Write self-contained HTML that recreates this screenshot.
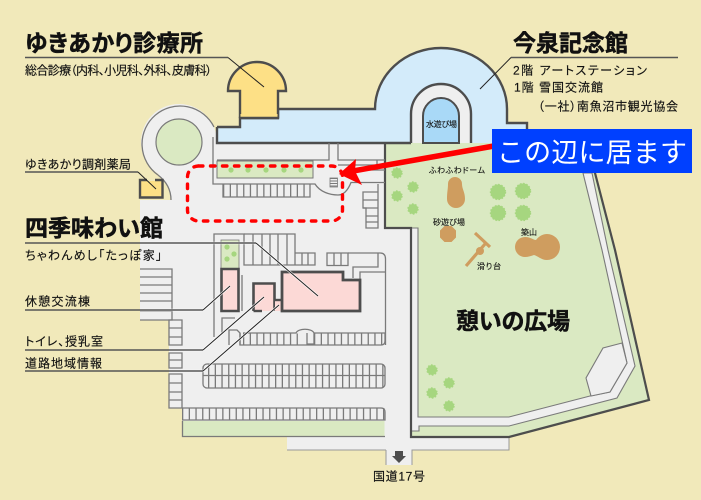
<!DOCTYPE html>
<html><head><meta charset="utf-8"><style>
html,body{margin:0;padding:0;background:#f1e9ba}
svg{display:block}
text{font-family:"Liberation Sans","Noto Sans CJK JP",sans-serif;fill:#111;font-feature-settings:"palt" 1}
.t{font-weight:700;font-size:23px;stroke:#111;stroke-width:.5px}
.s{font-size:12px;stroke:#111;stroke-width:.15px}
.m{font-size:8px;stroke:#111;stroke-width:.12px}
.c{fill:none;stroke:#7a7a7a;stroke-width:1.3}
.l{fill:none;stroke:#222;stroke-width:1}
.g{fill:none;stroke:#555;stroke-width:1.5}
.h{fill:none;stroke:#fff;stroke-width:2.4;opacity:.8}
.w{fill:none;stroke:#4d4d4d;stroke-width:2.4}
.tree{fill:#a6d67f;stroke:#a6d67f;stroke-width:1.4;stroke-dasharray:1.6 1.6}
</style></head><body>
<svg width="701" height="500" viewBox="0 0 701 500" xmlns="http://www.w3.org/2000/svg">
<rect width="701" height="500" fill="#f1e9ba"/>

<!-- ground -->
<path d="M214,127 L214,135 L412,135 L412,450 L509,450 L509,430 L412,430 L412,465 L386,465 L386,450 L287,450 L287,437 L182,437 L182,408 L169,408 L169,320 L140,320 L140,200 L171,200 Q171,185 158,175 Z" fill="#efefef"/>
<circle cx="179" cy="142" r="38" fill="#efefef"/>
<path d="M158,175 A38,38 0 1 1 214,127" class="c"/>
<path d="M158,175 Q171,185 171,200" class="c"/>
<circle cx="179" cy="142" r="23" fill="#dae9c2" stroke="#7a7a7a" stroke-width="1.2"/>
<path d="M287,450 L386,450 M386,450 V465 M412,465 V450 H509 V437" fill="none" stroke="#999" stroke-width="1"/>

<!-- park -->
<path d="M385,143 H560 L595,173 L615,250 L649,400 L509,437 H411 V228 H385 Z" fill="#dae9c2"/>
<path d="M411,228 H418 V417 H509 L590,396 L610,392 L627,363 L602,250 L583,173 L592,173 L608,250 L635,366 L617,398 L509,426 H419 V431 H411 Z" fill="#efefef" stroke="#7a7a7a" stroke-width="1.1"/>
<path d="M591,396 L586,378 L603,348 L622,343 L627,363 L610,392 Z" fill="#efefef" stroke="#7a7a7a" stroke-width="1.1"/>
<path d="M385,143 V228 H411 V437 H509 L649,400 L615,250 L595,173 L575,143" fill="none" stroke="#4d4d4d" stroke-width="2.2"/>

<!-- trees -->
<g class="tree">
<circle cx="397" cy="173" r="5"/><circle cx="413" cy="187" r="5"/><circle cx="397" cy="196" r="5"/><circle cx="413" cy="209" r="5"/>
<circle cx="498" cy="192" r="7.5"/><circle cx="523" cy="191" r="7.5"/><circle cx="498" cy="213" r="7.5"/><circle cx="523" cy="213" r="7.5"/>
<circle cx="432" cy="370" r="5"/><circle cx="449" cy="383" r="5"/><circle cx="432" cy="393" r="5"/><circle cx="449" cy="406" r="5"/>
</g>
<!-- brown features -->
<g fill="#cf9d5f">
<path d="M448,184 A7,7 0 0 1 462,184 C462,189 465,192 465,199 A9,9 0 0 1 447,199 C447,192 448,189 448,184 Z"/>
<polygon points="444.5,226 451.5,226 456,230.5 456,237.5 451.5,242 444.5,242 440,237.5 440,230.5"/>
<path d="M525,237 C531,237 533,240 536,240 C539,236 543,234 547,234 A13,13 0 0 1 547,260 C541,260 538,256 534,255 C531,256 528,257 525,257 A10,10 0 0 1 525,237 Z"/>
</g>
<g fill="none" stroke="#cf9d5f">
<path d="M475,233 L490,247" stroke-width="3.2"/>
<path d="M466,266 L485,244" stroke-width="3.2"/>
</g>
<circle cx="480" cy="251" r="4" fill="#cf9d5f"/>

<!-- blue building -->
<path d="M217,143 V127 H240 V118 H278 V109 H375 A66,61 0 0 1 507,109 V123 H527 V143 H471 V114 A30,30 0 0 0 411,114 V143 Z" fill="#d3ebfa"/>
<path d="M411,143 V114 A30,30 0 0 1 471,114 V143 Z" fill="#efefef"/>
<path d="M423,143 V116 A18,18 0 0 1 459,116 V143 Z" fill="#a9d9f7" stroke="#4d4d4d" stroke-width="2"/>
<path d="M217,127 H240 V118 H278 V109 H375 A66,61 0 0 1 507,109 V123 H527 V135" class="w"/>
<path d="M411,143 V114 A30,30 0 0 1 471,114 V143" class="w"/>
<path d="M217,127 V143 H411" class="w"/>

<!-- clinic -->
<path d="M240,117 V91 H228 A29,29 0 1 1 286,91 H278 V117 Z" fill="#fde086" stroke="#4d4d4d" stroke-width="2.4"/>
<rect x="240.5" y="114" width="37" height="4" fill="#fde086"/>
<path d="M239,118 H279" class="w"/>

<!-- pharmacy -->
<rect x="140" y="181" width="22" height="16" fill="#fde086"/>
<path d="M147,180 H140 V197.5 H162.5 V180 H155" class="w"/>

<!-- upper area walls -->
<path d="M213,137 V184 H315 C320,192 330,195 338,195 C344,195 348,190 351,182.5 H385 M217,160 H329 V143 M338,143 V160 H385 M338,165 H377 M377,160 V170 M360,170 H385" class="c"/>
<rect x="217" y="161" width="96" height="17" fill="#dae9c2" stroke="#7a7a7a"/>
<g fill="#a6d67f"><circle cx="231" cy="170" r="2.6"/><circle cx="248" cy="170" r="2.6"/><circle cx="266" cy="170" r="2.6"/><circle cx="284" cy="170" r="2.6"/><circle cx="301" cy="170" r="2.6"/></g>
<!-- parking row 1 -->
<path d="M223,184 V197 H310 V184" class="c"/>
<line x1="223" x2="310" y1="190.5" y2="190.5" stroke="#7a7a7a" stroke-width="13" stroke-dasharray="1.3 5.4"/>
<!-- stairs -->
<rect x="330" y="178" width="7.5" height="9" fill="#efefef" stroke="#7a7a7a" stroke-width=".8"/>
<line x1="333.7" x2="333.7" y1="178" y2="187" stroke="#7a7a7a" stroke-width="7.5" stroke-dasharray="1 1.5"/>
<path d="M378,192 H363 V208 H366 V228 H378 V184" class="c"/>
<path d="M363,200 H378 M363,208 H378 M366,216 H378 M366,222 H378" class="c"/>

<!-- left parking columns -->
<path d="M140,269 H172 V320 H140" class="c"/>
<path d="M140,277 H172 M140,285 H172 M140,293 H172 M140,301 H172 M140,311 H172" class="c"/>
<path d="M169,320 H182 V345 H169 Z M169,328 H182 M169,337 H182 M169,353 H182 V368 H169 Z M169,360 H182 M169,374 H182 V408 H169 Z M169,383 H182 M169,392 H182 M169,400 H182" class="c"/>

<!-- central block lines -->
<path d="M214,337 V234 H244 V265 H295" class="c"/>
<path d="M244,234 H295 V265 M253,234 V265 M262,234 V265 M270,234 V265 M278,234 V265 M287,234 V265" class="c"/>
<path d="M295,253 H315 V265 H295 M302,253 V265 M308,253 V265" class="c"/>
<path d="M327,253 H348 V265.5 H327 Z M334,253 V265 M341,253 V265" class="c"/>
<path d="M348,253 H380 Q385.5,253 385.5,259 V345 M378,253 V267 H353 V278 M360,280 V272 H385" class="c"/>
<path d="M222,333 V318 H235 M242,275 V311" class="c"/>
<path d="M229,345 V330 H237 L240,333 V345" class="c"/>

<!-- parking rows -->
<path d="M243,333 H296 C298,328 312,328 314,333 V344 H307 V333 M314,333 H385 V341 Q385,345 381,345 H240 V333" class="c"/>
<line x1="243" x2="298" y1="339" y2="339" stroke="#7a7a7a" stroke-width="11" stroke-dasharray="1.3 5.4"/>
<line x1="314" x2="385" y1="339" y2="339" stroke="#7a7a7a" stroke-width="11" stroke-dasharray="1.3 5.4"/>
<rect x="203" y="364" width="182" height="24" rx="4" class="c"/>
<line x1="203" x2="385" y1="375.5" y2="375.5" class="c"/>
<line x1="208" x2="385" y1="376" y2="376" stroke="#7a7a7a" stroke-width="24" stroke-dasharray="1.3 5.4"/>
<path d="M182,408 H381 Q385,408 385,412 V420 H182" class="c"/>
<line x1="182" x2="385" y1="414" y2="414" stroke="#7a7a7a" stroke-width="12" stroke-dasharray="1.3 5.4"/>
<rect x="182.5" y="421" width="202" height="15.5" fill="#dae9c2"/>
<path d="M182.5,421 V436.5 H385" class="c"/>

<!-- kiosk green -->
<rect x="221" y="240" width="18" height="29" fill="#dae9c2" stroke="#7a7a7a" stroke-width=".8"/>
<g fill="#a6d67f"><circle cx="227" cy="247" r="2.6"/><circle cx="234" cy="254" r="2.6"/><circle cx="227" cy="259" r="2.6"/></g>

<!-- pink buildings -->
<path d="M221.5,269 H238.5 V311 H221.5 Z" fill="#fcd9d6" stroke="#4d4d4d" stroke-width="2.6"/>
<path d="M253.5,311 V283.5 H274.5 V311" fill="#fcd9d6" stroke="#4d4d4d" stroke-width="2.6"/>
<path d="M253.5,311 H262" class="w"/>
<rect x="275" y="300" width="7" height="11" fill="#fcd9d6"/>
<path d="M275,300 H282" class="w"/>
<path d="M282,272 H343 V280 H360 V311 H282 Z" fill="#fcd9d6" stroke="#4d4d4d" stroke-width="2.8"/>

<!-- leaders -->
<path d="M140,243 H256 L318,296 M140,310 H203 L230,286 M169,350 H203 L264,297 M169,371 H203 L279,305" class="h"/>
<g class="g">
<path d="M25,57.5 H228"/><path d="M678,57.5 H511"/><path d="M25,172 H138"/><path d="M25,243 H256"/><path d="M25,310 H203"/><path d="M25,350 H203"/><path d="M25,371 H203"/>
</g>
<g class="l">
<path d="M228,57.5 L264,87"/>
<path d="M511,57.5 L480,89"/>
<path d="M138,172 L156,189"/>
<path d="M256,243 L318,296"/>
<path d="M203,310 L230,286"/>
<path d="M203,350 L264,297"/>
<path d="M203,371 L279,305"/>
</g>

<!-- road arrow -->
<polygon points="395,451 403,451 403,456 406,456 399,463 392,456 395,456" fill="#4d4d4d"/>

<!-- labels -->
<text class="t" x="25" y="51" textLength="178" lengthAdjust="spacing">ゆきあかり診療所</text>
<text class="t" x="513" y="51" textLength="115" lengthAdjust="spacing">今泉記念館</text>
<text class="t" x="25" y="236" textLength="138" lengthAdjust="spacing">四季味わい館</text>
<text class="t" x="456" y="329" textLength="114" lengthAdjust="spacing">憩いの広場</text>

<text class="s" x="25" y="74.5" textLength="187" lengthAdjust="spacing">総合診療（内科、小児科、外科、皮膚科）</text>
<text class="s" x="513" y="74.5" textLength="134" lengthAdjust="spacing">2階 アートステーション</text>
<text class="s" x="514" y="91.5" textLength="89" lengthAdjust="spacing">1階 雪国交流館</text>
<text class="s" x="538" y="110.5" textLength="140" lengthAdjust="spacing">（一社）南魚沼市観光協会</text>
<text class="s" x="25" y="168.5" textLength="106" lengthAdjust="spacing">ゆきあかり調剤薬局</text>
<text class="s" x="25" y="259.5" textLength="137" lengthAdjust="spacing">ちゃわんめし「たっぽ家」</text>
<text class="s" x="25" y="305.5" textLength="65" lengthAdjust="spacing">休憩交流棟</text>
<text class="s" x="25" y="345.5" textLength="78" lengthAdjust="spacing">トイレ、授乳室</text>
<text class="s" x="25" y="367.5" textLength="77" lengthAdjust="spacing">道路地域情報</text>
<text class="s" x="373" y="480.5" textLength="52" lengthAdjust="spacing">国道17号</text>

<text class="m" x="426" y="127" textLength="31" lengthAdjust="spacing">水遊び場</text>
<text class="m" x="429" y="173" textLength="56" lengthAdjust="spacing">ふわふわドーム</text>
<text class="m" x="433" y="225" textLength="32" lengthAdjust="spacing">砂遊び場</text>
<text class="m" x="521" y="235" textLength="16" lengthAdjust="spacing">築山</text>
<text class="m" x="477" y="269" textLength="24" lengthAdjust="spacing">滑り台</text>

<!-- red dashed -->
<rect x="187.5" y="166" width="155" height="55" rx="11" fill="none" stroke="#f00" stroke-width="3.4" stroke-dasharray="4.4 7.6" stroke-linecap="round"/>

<!-- red arrow -->
<line x1="494" y1="146" x2="353" y2="171" stroke="#f00" stroke-width="5.5"/>
<polygon points="339,174 356,159 355,171 362,185" fill="#f00"/>

<!-- callout -->
<rect x="492" y="129" width="200" height="44" fill="#0040ff"/>
<text x="497" y="162" font-size="27" style="fill:#fff;font-feature-settings:normal" textLength="190" lengthAdjust="spacing">この辺に居ます</text>
</svg>
</body></html>
